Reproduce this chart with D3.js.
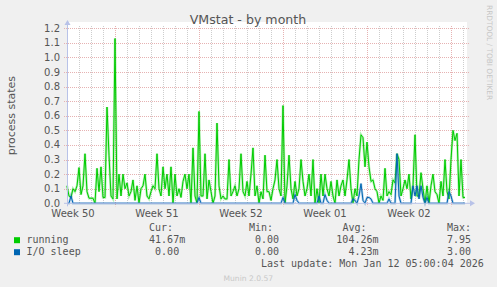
<!DOCTYPE html>
<html>
<head>
<meta charset="utf-8">
<script src="https://cdn.jsdelivr.net/npm/d3@7"></script>
<style>
  html, body { margin: 0; padding: 0; background: #f0f0f0; }
  svg { display: block; }
  text { font-family: "DejaVu Sans", sans-serif; fill: #555; }
  .mono { font-family: "DejaVu Sans Mono", monospace; white-space: pre; }
</style>
</head>
<body>
<svg id="chart" width="497" height="287"></svg>
<script>
// series sampled every 4 hours, starting Thu Dec 11 2025 00:00
const startTime = Date.UTC(2025, 11, 11, 0, 0);
const stepHours = 4;
const spanHours = 800;

const running = [
  0.12, 0.05, 0.04, 0.1, 0.08, 0.12, 0.245, 0.06, 0.12, 0.34,
  0.08, 0.035, 0.035, 0.035, 0.0, 0.24, 0.08, 0.25, 0.04, 0.04,
  0.66, 0.33, 0.05, 0.03, 1.13, 0.03, 0.2, 0.05, 0.2, 0.1,
  0.14, 0.05, 0.08, 0.16, 0.02, 0.12, 0.0, 0.1, 0.12, 0.2,
  0.05, 0.03, 0.08, 0.12, 0.1, 0.34, 0.1, 0.05, 0.25, 0.1,
  0.2, 0.05, 0.25, 0.0, 0.2, 0.05, 0.1, 0.04, 0.15, 0.2,
  0.1, 0.2, 0.0, 0.38, 0.05, 0.0, 0.63, 0.05, 0.05, 0.34,
  0.03, 0.16, 0.08, 0.0, 0.05, 0.55, 0.12, 0.03, 0.05, 0.03,
  0.03, 0.3, 0.05, 0.08, 0.12, 0.05, 0.1, 0.34, 0.08, 0.05,
  0.15, 0.05, 0.2, 0.38, 0.05, 0.12, 0.0, 0.08, 0.03, 0.33,
  0.08, 0.08, 0.02, 0.1, 0.16, 0.3, 0.1, 0.05, 0.67, 0.0,
  0.12, 0.33, 0.1, 0.03, 0.15, 0.05, 0.1, 0.3, 0.15, 0.05,
  0.1, 0.2, 0.05, 0.3, 0.0, 0.1, 0.0, 0.2, 0.05, 0.2,
  0.1, 0.05, 0.15, 0.05, 0.0, 0.16, 0.05, 0.12, 0.16, 0.05,
  0.16, 0.3, 0.1, 0.0, 0.1, 0.05, 0.3, 0.47, 0.45, 0.25,
  0.42, 0.25, 0.15, 0.16, 0.1, 0.08, 0.0, 0.05, 0.02, 0.24,
  0.05, 0.08, 0.06, 0.16, 0.14, 0.34, 0.3, 0.05, 0.1, 0.16,
  0.1, 0.2, 0.03, 0.12, 0.47, 0.05, 0.05, 0.21, 0.1, 0.0,
  0.12, 0.0, 0.12, 0.2, 0.08, 0.06, 0.0, 0.15, 0.05, 0.3,
  0.08, 0.03, 0.3, 0.5, 0.43, 0.48, 0.05, 0.3, 0.04, 0.04
];

const ioSleep = [
  0, 0, 0.05, 0, 0, 0, 0, 0, 0, 0, 0, 0, 0, 0, 0, 0, 0, 0, 0, 0,
  0, 0, 0, 0, 0, 0, 0, 0, 0, 0, 0, 0, 0, 0, 0, 0, 0, 0, 0, 0,
  0, 0, 0, 0, 0, 0, 0, 0, 0, 0, 0, 0, 0, 0, 0, 0, 0, 0, 0, 0,
  0, 0, 0, 0, 0, 0, 0.04, 0, 0, 0, 0, 0, 0, 0, 0, 0, 0, 0, 0, 0,
  0, 0, 0, 0, 0, 0, 0, 0, 0, 0, 0, 0, 0, 0, 0, 0, 0, 0, 0, 0,
  0, 0, 0, 0, 0, 0, 0, 0, 0.04, 0, 0, 0, 0, 0, 0.06, 0.02, 0, 0, 0, 0,
  0, 0, 0, 0, 0, 0, 0.05, 0, 0, 0.06, 0.02, 0, 0, 0, 0, 0, 0, 0, 0, 0,
  0, 0, 0, 0.03, 0.02, 0, 0.05, 0.135, 0.02, 0, 0.04, 0.04, 0.03, 0, 0, 0, 0, 0, 0, 0,
  0, 0.03, 0, 0, 0, 0.34, 0.05, 0, 0, 0, 0, 0, 0, 0.12, 0.05, 0.12, 0.03, 0.12, 0.04, 0,
  0.04, 0, 0, 0, 0, 0, 0, 0, 0, 0, 0, 0.08, 0.05, 0, 0, 0, 0, 0, 0, 0
];

const yTicks = [0, 0.1, 0.2, 0.3, 0.4, 0.5, 0.6, 0.7, 0.8, 0.9, 1.0, 1.1, 1.2];

const seriesNames = ['running', 'I/O sleep'];
const seriesColors = ['#00cc00', '#0066b3'];
const curVals = ['41.67m', ' 0.00 '];
const minVals = [' 0.00 ', ' 0.00 '];
const avgVals = ['104.26m', '  4.23m'];
const maxVals = ['7.95 ', '3.00 '];
const lastUpdate = 'Last update: Mon Jan 12 05:00:04 2026';

const svg = d3.select('#chart');
const plotLeft = 67, plotRight = 467, plotTop = 28, plotBottom = 203.3;

const x = d3.scaleUtc()
  .domain([new Date(startTime), new Date(startTime + spanHours * 3600e3)])
  .range([plotLeft, plotRight]);
const y = d3.scaleLinear().domain([0, 1.2]).range([plotBottom, plotTop + 0.3]);

const timeOf = i => new Date(startTime + i * stepHours * 3600e3);

// plot background
svg.append('rect').attr('x', plotLeft).attr('y', plotTop - 6)
  .attr('width', plotRight - plotLeft).attr('height', plotBottom - plotTop + 6)
  .attr('fill', '#fff');

// vertical grid: days (grey), weeks (red)
const [d0, d1] = x.domain();
const days = d3.utcDay.range(d0, d1);
const mondays = d3.utcMonday.range(d0, d1);
svg.append('g').selectAll('line').data(days).enter().append('line')
  .attr('x1', d => x(d) + 0.5).attr('x2', d => x(d) + 0.5)
  .attr('y1', plotTop - 2).attr('y2', plotBottom)
  .attr('stroke', '#cdcdcd').attr('stroke-dasharray', '1,1');
svg.append('g').selectAll('line').data(mondays).enter().append('line')
  .attr('x1', d => x(d) + 0.5).attr('x2', d => x(d) + 0.5)
  .attr('y1', plotTop - 2).attr('y2', plotBottom + 3)
  .attr('stroke', '#e6b2b2').attr('stroke-dasharray', '1,1');

// horizontal grid
svg.append('g').selectAll('line').data(yTicks.slice(1)).enter().append('line')
  .attr('x1', plotLeft - 3).attr('x2', plotRight + 2)
  .attr('y1', d => Math.round(y(d)) + 0.5).attr('y2', d => Math.round(y(d)) + 0.5)
  .attr('stroke', '#e6b2b2').attr('stroke-dasharray', '1,1');

// y tick labels
svg.append('g').selectAll('text').data(yTicks).enter().append('text')
  .attr('x', 60).attr('y', d => y(d) + 3.5)
  .attr('text-anchor', 'end').attr('font-size', 10)
  .text(d => d3.format('.1f')(d));

// week labels centred mid-week
const weekStarts = d3.utcMonday.range(d3.utcDay.offset(d0, -7), d1)
  .filter(m => d3.utcHour.offset(m, 84) >= d0 && d3.utcHour.offset(m, 84) <= d1);
svg.append('g').selectAll('text').data(weekStarts).enter().append('text')
  .attr('x', m => x(d3.utcHour.offset(m, 84)))
  .attr('y', 217)
  .attr('text-anchor', 'middle').attr('font-size', 10)
  .text(m => 'Week ' + d3.utcFormat('%V')(m));

// data lines: soft halo under a 1px line, like the rrdtool anti-aliasing
const line = d3.line()
  .x((d, i) => x(timeOf(i)))
  .y(d => y(d));
[running, ioSleep].forEach((s, k) => {
  svg.append('path').datum(s)
    .attr('d', line)
    .attr('fill', 'none')
    .attr('stroke', seriesColors[k])
    .attr('stroke-opacity', 0.3)
    .attr('stroke-width', 2.4);
  svg.append('path').datum(s)
    .attr('d', line)
    .attr('fill', 'none')
    .attr('stroke', seriesColors[k])
    .attr('stroke-width', 1);
});

// axes with arrows
const axisColor = '#b8c2e8';
svg.append('line').attr('x1', plotLeft - 3).attr('x2', plotRight + 4)
  .attr('y1', plotBottom).attr('y2', plotBottom)
  .attr('stroke', axisColor);
svg.append('line').attr('x1', plotLeft + 0.5).attr('x2', plotLeft + 0.5)
  .attr('y1', plotBottom + 3).attr('y2', plotTop - 4)
  .attr('stroke', axisColor);
svg.append('path')
  .attr('d', `M${plotRight + 3},${plotBottom - 3}L${plotRight + 8},${plotBottom}L${plotRight + 3},${plotBottom + 3}Z`)
  .attr('fill', axisColor);
svg.append('path')
  .attr('d', `M${plotLeft - 2.5},${plotTop - 3}L${plotLeft + 0.5},${plotTop - 8}L${plotLeft + 3.5},${plotTop - 3}Z`)
  .attr('fill', axisColor);

// titles
svg.append('text').attr('x', 248).attr('y', 24).attr('text-anchor', 'middle')
  .attr('font-size', 12.6).text('VMstat - by month');
svg.append('text').attr('transform', 'translate(15,115.6) rotate(-90)').attr('text-anchor', 'middle')
  .attr('font-size', 11).text('process states');
svg.append('text').attr('transform', 'translate(486.5,5) rotate(90)')
  .attr('font-size', 7.4).style('fill', '#c6c6c6').text('RRDTOOL / TOBI OETIKER');

// legend
const colX = [149, 249, 342.5, 447];
const heads = ['Cur:', 'Min:', 'Avg:', 'Max:'];
const legend = svg.append('g').attr('class', 'legend');
heads.forEach((h, j) => {
  legend.append('text').attr('class', 'mono').attr('x', colX[j]).attr('y', 231)
    .attr('font-size', 10).text(h);
});
seriesNames.forEach((name, k) => {
  const yy = 243.2 + k * 12;
  legend.append('rect').attr('x', 14).attr('y', yy - 6).attr('width', 6).attr('height', 6)
    .attr('fill', seriesColors[k]);
  legend.append('text').attr('class', 'mono').attr('x', 26.5).attr('y', yy).attr('font-size', 10).text(name);
  const vals = [curVals[k], minVals[k], avgVals[k], maxVals[k]];
  const ends = [185.2, 285, 378.5, 477];
  vals.forEach((v, j) => {
    legend.append('text').attr('class', 'mono').attr('x', ends[j]).attr('y', yy)
      .attr('text-anchor', 'end').attr('font-size', 10).text(v);
  });
});
legend.append('text').attr('class', 'mono').attr('x', 261).attr('y', 266.6)
  .attr('font-size', 10).text(lastUpdate);
svg.append('text').attr('x', 223.5).attr('y', 281).attr('font-size', 7.6)
  .style('fill', '#c8c8c8').text('Munin 2.0.57');
</script>
</body>
</html>
